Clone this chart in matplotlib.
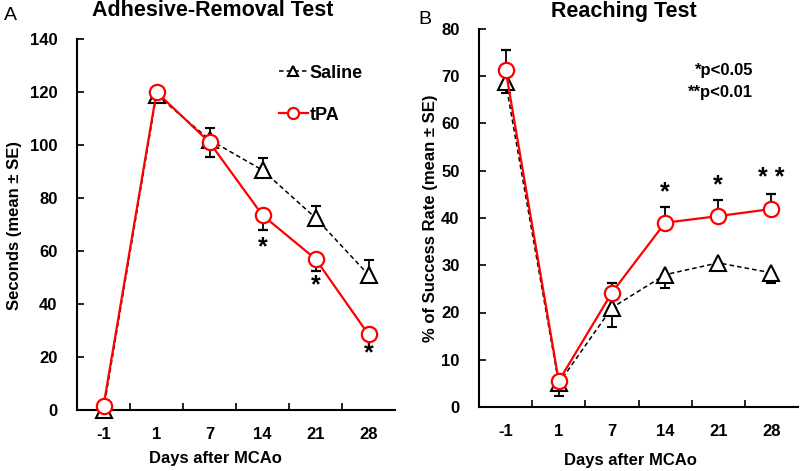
import matplotlib

matplotlib.use("Agg")

import matplotlib.pyplot as plt
from matplotlib.lines import Line2D
import numpy as np

plt.rcParams["font.family"] = ["Liberation Sans", "DejaVu Sans"]
plt.rcParams["font.weight"] = "bold"

days = ["-1", "1", "7", "14", "21", "28"]

# Panel A: adhesive-removal test (seconds)
adh_saline = [0, 119, 102, 90.5, 72.5, 51]
adh_saline_se = [0, 0, 4.5, 4.5, 4.5, 5.5]
adh_tpa = [1.5, 120, 101, 73.5, 57, 28.5]
adh_tpa_se = [0, 0, 5.5, 5.5, 4.5, 1.5]
adh_stars = ["", "", "", "*", "*", "*"]
adh_star_y = [0, 0, 0, 61.5, 47, 21.5]

# Panel B: reaching test (% success)
rch_saline = [68.8, 5.0, 21, 28, 30.5, 28.4]
rch_saline_se = [2.4, 2.7, 4, 2.8, 1.0, 2.2]
rch_tpa = [71.4, 5.5, 24.2, 39, 40.4, 41.9]
rch_tpa_se = [4.1, 0, 2.0, 3.3, 3.4, 3.1]
rch_stars = ["", "", "", "*", "*", "**"]
rch_star_y = [0, 0, 0, 45.5, 47, 48.5]

W, H = 800, 471
fig = plt.figure(figsize=(W / 100, H / 100), dpi=100)
fig.patch.set_facecolor("white")

SAL_STYLE = dict(color="black", ls=(0, (3, 2)), lw=1.1, marker="^",
                 mfc="white", mec="black", mew=1.5)
TPA_STYLE = dict(color="#ff0000", lw=1.6, marker="o",
                 mfc="white", mec="#ff0000", mew=1.6)


def px(x, y):
    return x / W, 1 - y / H


def draw_panel(rect, saline, saline_se, tpa, tpa_se, tpa_down, ymax, ystep):
    ax = fig.add_axes(rect)
    x = np.arange(len(days)) + 0.5
    zeros = np.zeros(len(days))
    sal_err = [zeros, saline_se] if tpa_down else [saline_se, zeros]
    tpa_err = [tpa_se, zeros] if tpa_down else [zeros, tpa_se]
    ax.errorbar(x, saline, yerr=sal_err, ms=11, **SAL_STYLE,
                ecolor="black", elinewidth=1.3, capsize=3.5, capthick=1.3,
                clip_on=False, zorder=3)
    ax.errorbar(x, tpa, yerr=tpa_err, ms=11, **TPA_STYLE,
                ecolor="black", elinewidth=1.3, capsize=3.5, capthick=1.3,
                clip_on=False, zorder=4)
    ax.set_xlim(0, len(days))
    ax.set_ylim(0, ymax)
    ax.set_xticks(np.arange(1, len(days)))
    ax.set_xticklabels([])
    ax.set_xticks(x, minor=True)
    ax.set_xticklabels(days, minor=True)
    ax.tick_params(axis="x", which="minor", length=0, pad=12, labelsize=12)
    ax.tick_params(axis="x", which="major", direction="in", length=5, width=1.2)
    ax.set_yticks(np.arange(0, ymax + 1, ystep))
    ax.tick_params(axis="y", direction="in", length=5, width=1.2, labelsize=12, pad=14)
    for s in ["top", "right"]:
        ax.spines[s].set_visible(False)
    for s in ["left", "bottom"]:
        ax.spines[s].set_linewidth(1.5)
    return ax, x


# Panel A
axA, xA = draw_panel([77 / W, 1 - 410 / H, 318 / W, 371 / H],
                     adh_saline, adh_saline_se, adh_tpa, adh_tpa_se, True, 140, 20)
for xi, s, yy in zip(xA, adh_stars, adh_star_y):
    if s:
        axA.text(xi, yy, s, ha="center", va="center", fontsize=18)
handles = [Line2D([], [], ms=7, **SAL_STYLE), Line2D([], [], ms=8, **TPA_STYLE)]
axA.legend(handles, ["Saline", "tPA"], loc="upper right", bbox_to_anchor=(0.95, 0.975),
           frameon=False, fontsize=13, handlelength=1.6, handletextpad=0.1,
           labelspacing=1.4)

# Panel B
axB, xB = draw_panel([479 / W, 1 - 407 / H, 319 / W, 378 / H],
                     rch_saline, rch_saline_se, rch_tpa, rch_tpa_se, False, 80, 10)
for xi, s, yy in zip(xB, rch_stars, rch_star_y):
    if s:
        axB.text(xi, yy, " ".join(s), ha="center", va="center", fontsize=18)

# Text
fig.text(*px(213, 10), "Adhesive-Removal Test", ha="center", va="center", fontsize=15.5)
fig.text(*px(624, 12), "Reaching Test", ha="center", va="center", fontsize=15.5)
fig.text(*px(10, 15), "A", ha="center", va="center", fontsize=14, fontweight="normal")
fig.text(*px(425, 20), "B", ha="center", va="center", fontsize=14, fontweight="normal")
fig.text(*px(215, 458), "Days after MCAo", ha="center", va="center", fontsize=12)
fig.text(*px(630, 460), "Days after MCAo", ha="center", va="center", fontsize=12)
fig.text(*px(15, 226), "Seconds (mean \u00b1 SE)", ha="center", va="center",
         rotation=90, fontsize=12)
fig.text(*px(430, 218), "% of Success Rate (mean \u00b1 SE)", ha="center", va="center",
         rotation=90, fontsize=12)
fig.text(*px(753, 71), "*p<0.05", ha="right", va="center", fontsize=12)
fig.text(*px(753, 93), "**p<0.01", ha="right", va="center", fontsize=12)

fig.savefig("out.png", dpi=100, facecolor="white")
